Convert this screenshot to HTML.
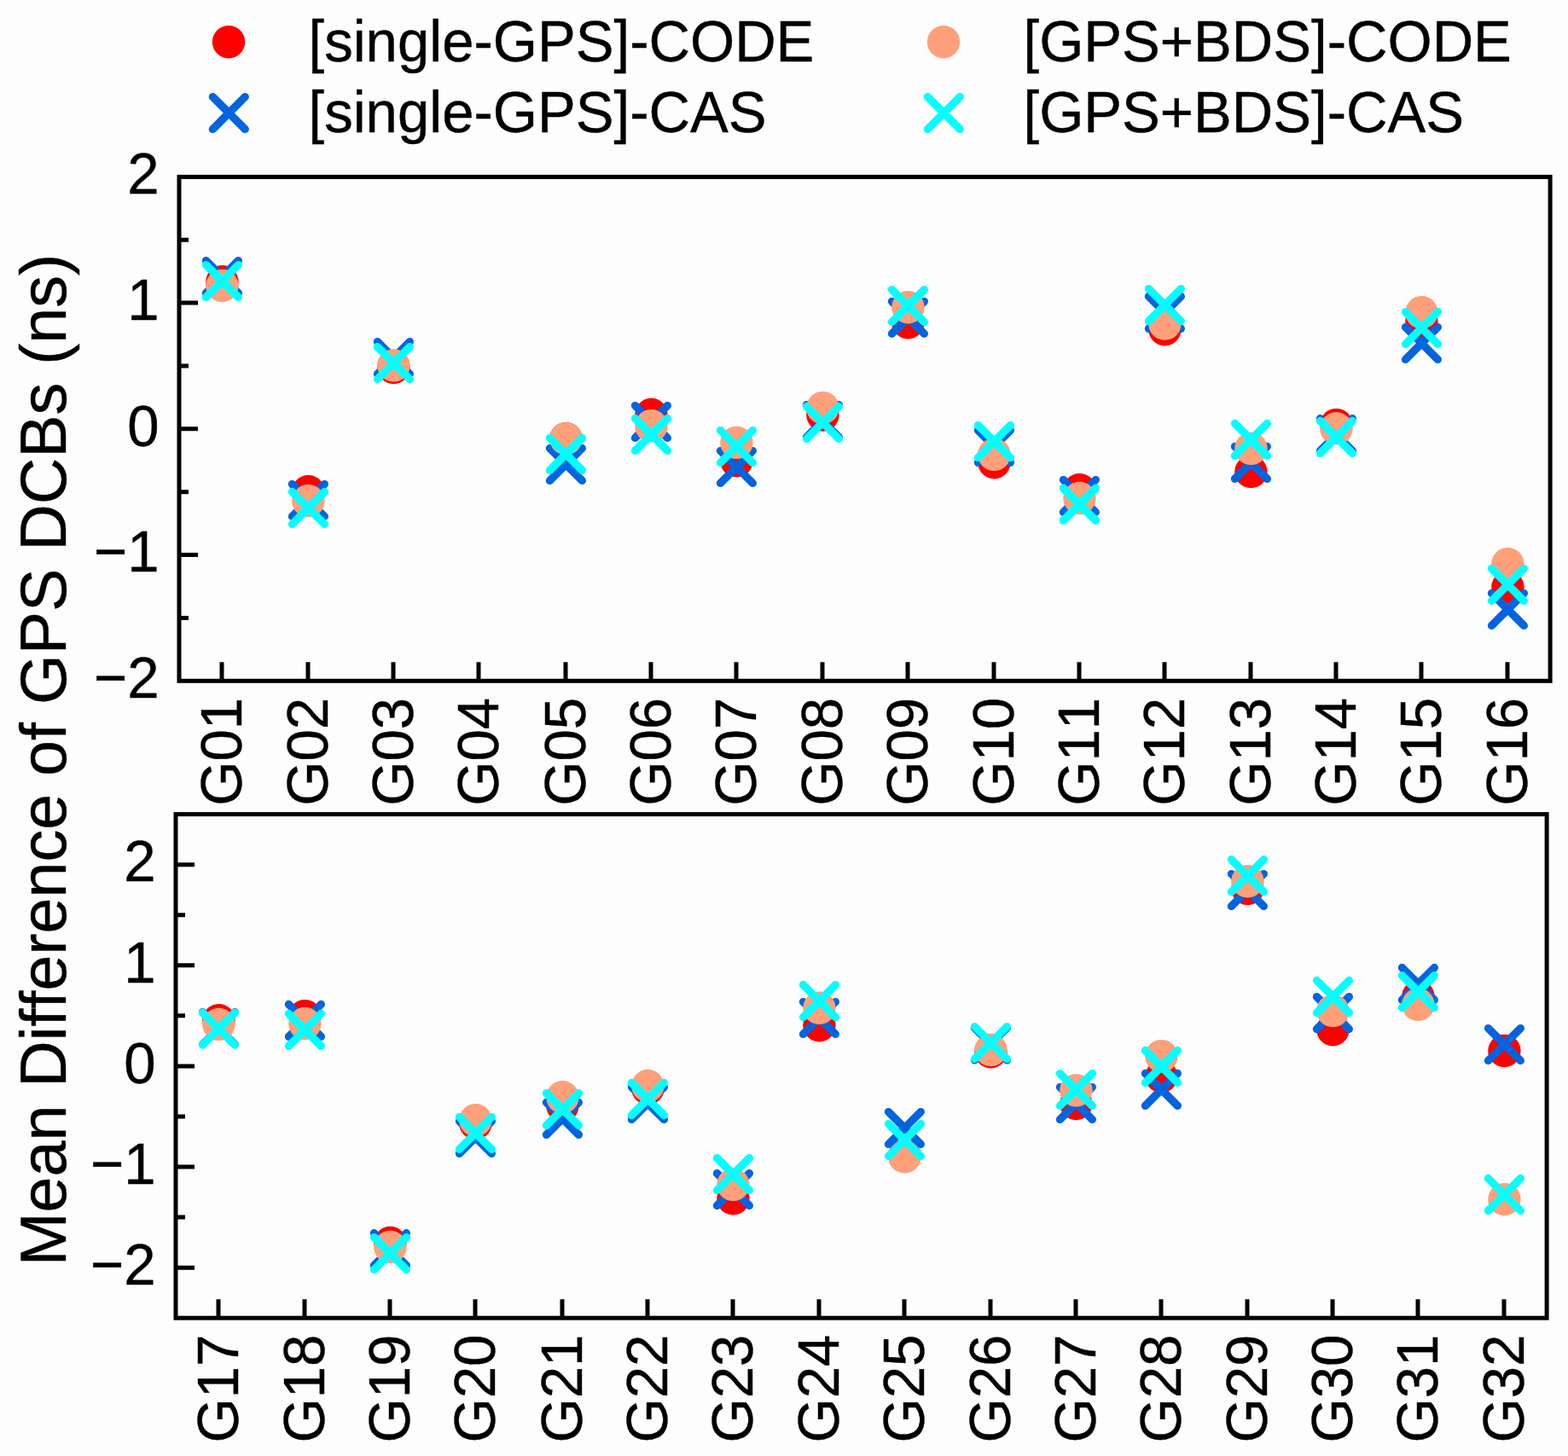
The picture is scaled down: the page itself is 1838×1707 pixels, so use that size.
<!DOCTYPE html>
<html lang="en"><head><meta charset="utf-8"><title>Mean Difference of GPS DCBs</title>
<style>
html,body{margin:0;padding:0;background:#fdfdfd;}
body{width:1838px;height:1707px;}
svg{display:block;}
text{font-family:"Liberation Sans",Arial,Helvetica,sans-serif;fill:#000;stroke:#000;stroke-width:0.4px;font-kerning:none;white-space:pre;}
.tk{font-size:67.1px;}
.lg{font-size:67.1px;}
.yl{font-size:75.45px;letter-spacing:0px;}
.ax{stroke:#000;stroke-width:5;fill:none;stroke-linecap:butt;}
.fr{stroke:#000;stroke-width:5;fill:none;stroke-linejoin:miter;}
.c{stroke:none;}
.x{fill:none;stroke-width:9.3;stroke-linecap:round;}
</style></head><body>
<svg width="1838" height="1707" viewBox="0 0 1838 1707" role="img" aria-label="Mean Difference of GPS DCBs (ns) for G01-G32">
<rect x="0" y="0" width="1838" height="1707" fill="#fdfdfd"/>
<defs>
<path id="xm" d="M-18.95 -18.95L18.95 18.95M-18.95 18.95L18.95 -18.95"/>
</defs>
<g id="top">
<g>
<circle class="c" cx="260.4" cy="330.3" r="19.2" fill="#ff0000"/>
<use href="#xm" class="x" x="260.4" y="324.6" stroke="#0064e1"/>
<circle class="c" cx="260.4" cy="335" r="19.2" fill="#ffa07a"/>
<use href="#xm" class="x" x="260.4" y="329.5" stroke="#00ffff"/>
<circle class="c" cx="361.4" cy="576.2" r="19.2" fill="#ff0000"/>
<use href="#xm" class="x" x="361.4" y="586.6" stroke="#0064e1"/>
<circle class="c" cx="361.4" cy="587.3" r="19.2" fill="#ffa07a"/>
<use href="#xm" class="x" x="361.4" y="595.6" stroke="#00ffff"/>
<circle class="c" cx="461.4" cy="431" r="19.2" fill="#ff0000"/>
<use href="#xm" class="x" x="461.4" y="419.6" stroke="#0064e1"/>
<circle class="c" cx="461.4" cy="428.4" r="19.2" fill="#ffa07a"/>
<use href="#xm" class="x" x="461.4" y="425.6" stroke="#00ffff"/>
<circle class="c" cx="663.4" cy="514.3" r="19.2" fill="#ff0000"/>
<use href="#xm" class="x" x="663.4" y="544.5" stroke="#0064e1"/>
<circle class="c" cx="663.4" cy="514.3" r="19.2" fill="#ffa07a"/>
<use href="#xm" class="x" x="663.4" y="532.4" stroke="#00ffff"/>
<circle class="c" cx="763.4" cy="486" r="19.2" fill="#ff0000"/>
<use href="#xm" class="x" x="763.4" y="494.5" stroke="#0064e1"/>
<circle class="c" cx="763.4" cy="499.3" r="19.2" fill="#ffa07a"/>
<use href="#xm" class="x" x="763.4" y="509.4" stroke="#00ffff"/>
<circle class="c" cx="863.4" cy="540.3" r="19.2" fill="#ff0000"/>
<use href="#xm" class="x" x="863.4" y="547.5" stroke="#0064e1"/>
<circle class="c" cx="863.4" cy="518.9" r="19.2" fill="#ffa07a"/>
<use href="#xm" class="x" x="863.4" y="523.5" stroke="#00ffff"/>
<circle class="c" cx="964.4" cy="486.5" r="19.2" fill="#ff0000"/>
<use href="#xm" class="x" x="964.4" y="493.6" stroke="#0064e1"/>
<circle class="c" cx="964.4" cy="478.1" r="19.2" fill="#ffa07a"/>
<use href="#xm" class="x" x="964.4" y="495.5" stroke="#00ffff"/>
<circle class="c" cx="1064.4" cy="378.2" r="19.2" fill="#ff0000"/>
<use href="#xm" class="x" x="1064.4" y="372.3" stroke="#0064e1"/>
<circle class="c" cx="1064.4" cy="360.2" r="19.2" fill="#ffa07a"/>
<use href="#xm" class="x" x="1064.4" y="358.6" stroke="#00ffff"/>
<circle class="c" cx="1165.4" cy="542.2" r="19.2" fill="#ff0000"/>
<use href="#xm" class="x" x="1165.4" y="523.4" stroke="#0064e1"/>
<circle class="c" cx="1165.4" cy="532.9" r="19.2" fill="#ffa07a"/>
<use href="#xm" class="x" x="1165.4" y="517.6" stroke="#00ffff"/>
<circle class="c" cx="1265.4" cy="574.2" r="19.2" fill="#ff0000"/>
<use href="#xm" class="x" x="1265.4" y="581.5" stroke="#0064e1"/>
<circle class="c" cx="1265.4" cy="584" r="19.2" fill="#ffa07a"/>
<use href="#xm" class="x" x="1265.4" y="591.2" stroke="#00ffff"/>
<circle class="c" cx="1365.4" cy="386.2" r="19.2" fill="#ff0000"/>
<use href="#xm" class="x" x="1365.4" y="366.4" stroke="#0064e1"/>
<circle class="c" cx="1365.4" cy="379.6" r="19.2" fill="#ffa07a"/>
<use href="#xm" class="x" x="1365.4" y="357.5" stroke="#00ffff"/>
<circle class="c" cx="1466.4" cy="553.1" r="19.2" fill="#ff0000"/>
<use href="#xm" class="x" x="1466.4" y="542.4" stroke="#0064e1"/>
<circle class="c" cx="1466.4" cy="525.9" r="19.2" fill="#ffa07a"/>
<use href="#xm" class="x" x="1466.4" y="515.4" stroke="#00ffff"/>
<circle class="c" cx="1566.4" cy="498.1" r="19.2" fill="#ff0000"/>
<use href="#xm" class="x" x="1566.4" y="509.7" stroke="#0064e1"/>
<circle class="c" cx="1566.4" cy="502.4" r="19.2" fill="#ffa07a"/>
<use href="#xm" class="x" x="1566.4" y="512.4" stroke="#00ffff"/>
<circle class="c" cx="1666.4" cy="377" r="19.2" fill="#ff0000"/>
<use href="#xm" class="x" x="1666.4" y="402.5" stroke="#0064e1"/>
<circle class="c" cx="1666.4" cy="366.3" r="19.2" fill="#ffa07a"/>
<use href="#xm" class="x" x="1666.4" y="384.5" stroke="#00ffff"/>
<circle class="c" cx="1767.4" cy="688.4" r="19.2" fill="#ff0000"/>
<use href="#xm" class="x" x="1767.4" y="714.5" stroke="#0064e1"/>
<circle class="c" cx="1767.4" cy="661.2" r="19.2" fill="#ffa07a"/>
<use href="#xm" class="x" x="1767.4" y="685.5" stroke="#00ffff"/>
</g>
<path class="ax" d="M210 724.44h11M210 650.57h22M210 576.71h11M210 502.85h22M210 428.99h11M210 355.12h22M210 281.26h11M260 798.3v-22M361 798.3v-22M461 798.3v-22M561 798.3v-22M663 798.3v-22M763 798.3v-22M863 798.3v-22M964 798.3v-22M1064 798.3v-22M1165 798.3v-22M1265 798.3v-22M1365 798.3v-22M1466 798.3v-22M1566 798.3v-22M1666 798.3v-22M1767 798.3v-22"/>
<rect class="fr" x="210" y="207.4" width="1607.1" height="590.9"/>
<text class="tk" text-anchor="end" transform="translate(186.6 818.1) scale(1 1.03)">−2</text>
<text class="tk" text-anchor="end" transform="translate(186.6 670.37) scale(1 1.03)">−1</text>
<text class="tk" text-anchor="end" transform="translate(186.6 522.65) scale(1 1.03)">0</text>
<text class="tk" text-anchor="end" transform="translate(186.6 374.93) scale(1 1.03)">1</text>
<text class="tk" text-anchor="end" transform="translate(186.6 227.2) scale(1 1.03)">2</text>
<text class="tk" text-anchor="end" transform="translate(282.9 817.8) rotate(-90) scale(1 1.03)">G01</text>
<text class="tk" text-anchor="end" transform="translate(383.9 817.8) rotate(-90) scale(1 1.03)">G02</text>
<text class="tk" text-anchor="end" transform="translate(483.9 817.8) rotate(-90) scale(1 1.03)">G03</text>
<text class="tk" text-anchor="end" transform="translate(583.9 817.8) rotate(-90) scale(1 1.03)">G04</text>
<text class="tk" text-anchor="end" transform="translate(685.9 817.8) rotate(-90) scale(1 1.03)">G05</text>
<text class="tk" text-anchor="end" transform="translate(785.9 817.8) rotate(-90) scale(1 1.03)">G06</text>
<text class="tk" text-anchor="end" transform="translate(885.9 817.8) rotate(-90) scale(1 1.03)">G07</text>
<text class="tk" text-anchor="end" transform="translate(986.9 817.8) rotate(-90) scale(1 1.03)">G08</text>
<text class="tk" text-anchor="end" transform="translate(1086.9 817.8) rotate(-90) scale(1 1.03)">G09</text>
<text class="tk" text-anchor="end" transform="translate(1187.9 817.8) rotate(-90) scale(1 1.03)">G10</text>
<text class="tk" text-anchor="end" transform="translate(1287.9 817.8) rotate(-90) scale(1 1.03)">G11</text>
<text class="tk" text-anchor="end" transform="translate(1387.9 817.8) rotate(-90) scale(1 1.03)">G12</text>
<text class="tk" text-anchor="end" transform="translate(1488.9 817.8) rotate(-90) scale(1 1.03)">G13</text>
<text class="tk" text-anchor="end" transform="translate(1588.9 817.8) rotate(-90) scale(1 1.03)">G14</text>
<text class="tk" text-anchor="end" transform="translate(1688.9 817.8) rotate(-90) scale(1 1.03)">G15</text>
<text class="tk" text-anchor="end" transform="translate(1789.9 817.8) rotate(-90) scale(1 1.03)">G16</text>
</g>
<g id="bot">
<g>
<circle class="c" cx="256.4" cy="1196.2" r="19.2" fill="#ff0000"/>
<use href="#xm" class="x" x="256.4" y="1205.6" stroke="#0064e1"/>
<circle class="c" cx="256.4" cy="1200.9" r="19.2" fill="#ffa07a"/>
<use href="#xm" class="x" x="256.4" y="1206.1" stroke="#00ffff"/>
<circle class="c" cx="357.4" cy="1191.1" r="19.2" fill="#ff0000"/>
<use href="#xm" class="x" x="357.4" y="1196.4" stroke="#0064e1"/>
<circle class="c" cx="357.4" cy="1200" r="19.2" fill="#ffa07a"/>
<use href="#xm" class="x" x="357.4" y="1207.4" stroke="#00ffff"/>
<circle class="c" cx="457.4" cy="1457" r="19.2" fill="#ff0000"/>
<use href="#xm" class="x" x="457.4" y="1464.7" stroke="#0064e1"/>
<circle class="c" cx="457.4" cy="1461.9" r="19.2" fill="#ffa07a"/>
<use href="#xm" class="x" x="457.4" y="1469.5" stroke="#00ffff"/>
<circle class="c" cx="557.4" cy="1317" r="19.2" fill="#ff0000"/>
<use href="#xm" class="x" x="557.4" y="1333.4" stroke="#0064e1"/>
<circle class="c" cx="557.4" cy="1313.3" r="19.2" fill="#ffa07a"/>
<use href="#xm" class="x" x="557.4" y="1328.5" stroke="#00ffff"/>
<circle class="c" cx="659.4" cy="1296.5" r="19.2" fill="#ff0000"/>
<use href="#xm" class="x" x="659.4" y="1311.4" stroke="#0064e1"/>
<circle class="c" cx="659.4" cy="1286.3" r="19.2" fill="#ffa07a"/>
<use href="#xm" class="x" x="659.4" y="1300.6" stroke="#00ffff"/>
<circle class="c" cx="759.4" cy="1276.2" r="19.2" fill="#ff0000"/>
<use href="#xm" class="x" x="759.4" y="1293.5" stroke="#0064e1"/>
<circle class="c" cx="759.4" cy="1273" r="19.2" fill="#ffa07a"/>
<use href="#xm" class="x" x="759.4" y="1288.4" stroke="#00ffff"/>
<circle class="c" cx="859.4" cy="1405.3" r="19.2" fill="#ff0000"/>
<use href="#xm" class="x" x="859.4" y="1394.6" stroke="#0064e1"/>
<circle class="c" cx="859.4" cy="1388.9" r="19.2" fill="#ffa07a"/>
<use href="#xm" class="x" x="859.4" y="1376.6" stroke="#00ffff"/>
<circle class="c" cx="960.4" cy="1202.2" r="19.2" fill="#ff0000"/>
<use href="#xm" class="x" x="960.4" y="1193.5" stroke="#0064e1"/>
<circle class="c" cx="960.4" cy="1181.8" r="19.2" fill="#ffa07a"/>
<use href="#xm" class="x" x="960.4" y="1173.6" stroke="#00ffff"/>
<circle class="c" cx="1060.4" cy="1354.8" r="19.2" fill="#ff0000"/>
<use href="#xm" class="x" x="1060.4" y="1322.5" stroke="#0064e1"/>
<circle class="c" cx="1060.4" cy="1356.3" r="19.2" fill="#ffa07a"/>
<use href="#xm" class="x" x="1060.4" y="1336.5" stroke="#00ffff"/>
<circle class="c" cx="1161.4" cy="1233.2" r="19.2" fill="#ff0000"/>
<use href="#xm" class="x" x="1161.4" y="1223.9" stroke="#0064e1"/>
<circle class="c" cx="1161.4" cy="1231" r="19.2" fill="#ffa07a"/>
<use href="#xm" class="x" x="1161.4" y="1222.5" stroke="#00ffff"/>
<circle class="c" cx="1261.4" cy="1294" r="19.2" fill="#ff0000"/>
<use href="#xm" class="x" x="1261.4" y="1293.5" stroke="#0064e1"/>
<circle class="c" cx="1261.4" cy="1278.4" r="19.2" fill="#ffa07a"/>
<use href="#xm" class="x" x="1261.4" y="1277.5" stroke="#00ffff"/>
<circle class="c" cx="1361.4" cy="1262" r="19.2" fill="#ff0000"/>
<use href="#xm" class="x" x="1361.4" y="1277.4" stroke="#0064e1"/>
<circle class="c" cx="1361.4" cy="1238.1" r="19.2" fill="#ffa07a"/>
<use href="#xm" class="x" x="1361.4" y="1250.4" stroke="#00ffff"/>
<circle class="c" cx="1462.4" cy="1042" r="19.2" fill="#ff0000"/>
<use href="#xm" class="x" x="1462.4" y="1043.5" stroke="#0064e1"/>
<circle class="c" cx="1462.4" cy="1033.2" r="19.2" fill="#ffa07a"/>
<use href="#xm" class="x" x="1462.4" y="1026.7" stroke="#00ffff"/>
<circle class="c" cx="1562.4" cy="1207.2" r="19.2" fill="#ff0000"/>
<use href="#xm" class="x" x="1562.4" y="1187.6" stroke="#0064e1"/>
<circle class="c" cx="1562.4" cy="1185.1" r="19.2" fill="#ffa07a"/>
<use href="#xm" class="x" x="1562.4" y="1168.4" stroke="#00ffff"/>
<circle class="c" cx="1662.4" cy="1168" r="19.2" fill="#ff0000"/>
<use href="#xm" class="x" x="1662.4" y="1153.4" stroke="#0064e1"/>
<circle class="c" cx="1662.4" cy="1177.8" r="19.2" fill="#ffa07a"/>
<use href="#xm" class="x" x="1662.4" y="1162.6" stroke="#00ffff"/>
<circle class="c" cx="1763.4" cy="1232" r="19.2" fill="#ff0000"/>
<use href="#xm" class="x" x="1763.4" y="1224.5" stroke="#0064e1"/>
<circle class="c" cx="1763.4" cy="1406.1" r="19.2" fill="#ffa07a"/>
<use href="#xm" class="x" x="1763.4" y="1400.4" stroke="#00ffff"/>
</g>
<path class="ax" d="M206 1486.14h22M206 1427.08h11M206 1368.02h22M206 1308.96h11M206 1249.9h22M206 1190.84h11M206 1131.78h22M206 1072.72h11M206 1013.66h22M256 1545.2v-22M357 1545.2v-22M457 1545.2v-22M557 1545.2v-22M659 1545.2v-22M759 1545.2v-22M859 1545.2v-22M960 1545.2v-22M1060 1545.2v-22M1161 1545.2v-22M1261 1545.2v-22M1361 1545.2v-22M1462 1545.2v-22M1562 1545.2v-22M1662 1545.2v-22M1763 1545.2v-22"/>
<rect class="fr" x="206" y="954.6" width="1607.1" height="590.6"/>
<text class="tk" text-anchor="end" transform="translate(182.6 1505.94) scale(1 1.03)">−2</text>
<text class="tk" text-anchor="end" transform="translate(182.6 1387.82) scale(1 1.03)">−1</text>
<text class="tk" text-anchor="end" transform="translate(182.6 1269.7) scale(1 1.03)">0</text>
<text class="tk" text-anchor="end" transform="translate(182.6 1151.58) scale(1 1.03)">1</text>
<text class="tk" text-anchor="end" transform="translate(182.6 1033.46) scale(1 1.03)">2</text>
<text class="tk" text-anchor="end" transform="translate(278.9 1564.7) rotate(-90) scale(1 1.03)">G17</text>
<text class="tk" text-anchor="end" transform="translate(379.9 1564.7) rotate(-90) scale(1 1.03)">G18</text>
<text class="tk" text-anchor="end" transform="translate(479.9 1564.7) rotate(-90) scale(1 1.03)">G19</text>
<text class="tk" text-anchor="end" transform="translate(579.9 1564.7) rotate(-90) scale(1 1.03)">G20</text>
<text class="tk" text-anchor="end" transform="translate(681.9 1564.7) rotate(-90) scale(1 1.03)">G21</text>
<text class="tk" text-anchor="end" transform="translate(781.9 1564.7) rotate(-90) scale(1 1.03)">G22</text>
<text class="tk" text-anchor="end" transform="translate(881.9 1564.7) rotate(-90) scale(1 1.03)">G23</text>
<text class="tk" text-anchor="end" transform="translate(982.9 1564.7) rotate(-90) scale(1 1.03)">G24</text>
<text class="tk" text-anchor="end" transform="translate(1082.9 1564.7) rotate(-90) scale(1 1.03)">G25</text>
<text class="tk" text-anchor="end" transform="translate(1183.9 1564.7) rotate(-90) scale(1 1.03)">G26</text>
<text class="tk" text-anchor="end" transform="translate(1283.9 1564.7) rotate(-90) scale(1 1.03)">G27</text>
<text class="tk" text-anchor="end" transform="translate(1383.9 1564.7) rotate(-90) scale(1 1.03)">G28</text>
<text class="tk" text-anchor="end" transform="translate(1484.9 1564.7) rotate(-90) scale(1 1.03)">G29</text>
<text class="tk" text-anchor="end" transform="translate(1584.9 1564.7) rotate(-90) scale(1 1.03)">G30</text>
<text class="tk" text-anchor="end" transform="translate(1684.9 1564.7) rotate(-90) scale(1 1.03)">G31</text>
<text class="tk" text-anchor="end" transform="translate(1785.9 1564.7) rotate(-90) scale(1 1.03)">G32</text>
</g>
<text class="yl" text-anchor="start" transform="translate(77.2 1484.3) rotate(-90) scale(1 1.01)">Mean Difference of GPS DCBs (ns)</text>
<g id="legend">
<circle class="c" cx="268" cy="49.2" r="19.2" fill="#ff0000"/>
<text class="lg" textLength="592.86" lengthAdjust="spacing" transform="translate(361.5 72) scale(1 1.03)">[single-GPS]-CODE</text>
<use href="#xm" class="x" x="268.3" y="132.5" stroke="#0064e1"/>
<text class="lg" textLength="536.97" lengthAdjust="spacing" transform="translate(361.5 155) scale(1 1.03)">[single-GPS]-CAS</text>
<circle class="c" cx="1106" cy="49.2" r="19.2" fill="#ffa07a"/>
<text class="lg" textLength="572.35" lengthAdjust="spacing" transform="translate(1199.5 72) scale(1 1.03)">[GPS+BDS]-CODE</text>
<use href="#xm" class="x" x="1106.3" y="132.5" stroke="#00ffff"/>
<text class="lg" textLength="516.46" lengthAdjust="spacing" transform="translate(1199.5 155) scale(1 1.03)">[GPS+BDS]-CAS</text>
</g>
</svg>
</body></html>
